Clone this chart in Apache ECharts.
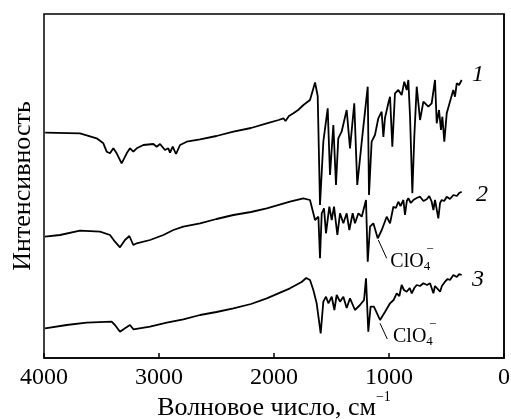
<!DOCTYPE html>
<html><head><meta charset="utf-8">
<script src="https://cdn.jsdelivr.net/npm/echarts@6/dist/echarts.min.js"></script>
<style>html,body{margin:0;padding:0;background:#fff}#c{width:511px;height:419px}</style>
</head><body><div id="c"></div>
<script>
// wavenumber (cm^-1), intensity (arbitrary, offset traces)
const curve1 = [[3990,225.3],[3687,224.7],[3542,219.7],[3484,214.7],[3455,206.3],[3426,204.7],[3397,209.7],[3368,204.7],[3325,194.7],[3281,204.7],[3252,209.7],[3223,206.3],[3194,209.7],[3136,213],[3049,214],[3020,211.3],[2991,214],[2948,208],[2919,209.7],[2904,205.3],[2881,211.3],[2852,204],[2817,213],[2759,216.3],[2643,218.7],[2500,222],[2353,226.3],[2200,230],[2063,234.7],[1960,238],[1918,239.7],[1900,237],[1870,242],[1831,244.7],[1790,248],[1744,253],[1687,258],[1643,275.5],[1620,262],[1600,153],[1571,216.3],[1533,249.7],[1513,183],[1484,233],[1461,173],[1441,219.7],[1412,226.3],[1368,248],[1339,209.7],[1302,254.7],[1276,173],[1237,216.3],[1185,271.3],[1174,163],[1151,216.3],[1122,223],[1093,239.7],[1064,246.3],[1049,221],[1035,240],[1006,254.7],[991,261.3],[971,211.3],[948,264.7],[919,268],[890,263],[867,276.3],[846,268],[832,278],[817,241.3],[797,164.7],[780,221.3],[759,271.3],[730,238],[701,256.3],[658,251.3],[629,254.7],[600,278],[585,234.7],[565,248],[548,228],[536,241.3],[519,216.3],[498,244.7],[470,256.3],[441,268],[426,261.3],[411,274.7],[391,273],[368,278]];
const curve2 = [[3991,121.3],[3861,123],[3687,127.3],[3513,126.3],[3426,123],[3383,116.3],[3339,110.7],[3296,118],[3258,122],[3223,113],[3194,114.7],[3078,118],[2962,123],[2875,128],[2788,131.3],[2643,134.7],[2500,139],[2353,143],[2200,146],[2063,149.7],[1861,156.3],[1745,159.7],[1687,158],[1658,144.7],[1643,138],[1614,141.3],[1600,99.7],[1585,144.7],[1565,149.7],[1548,124.7],[1519,151.3],[1498,138],[1478,151.3],[1449,123],[1426,144.7],[1397,134.7],[1368,144.7],[1345,128],[1316,144.7],[1296,134.7],[1266,144.7],[1237,141.3],[1200,158],[1185,96.3],[1165,131.3],[1136,134.7],[1098,119.7],[1063,128],[1020,141.3],[991,134.7],[962,151.3],[940,150],[919,156.3],[900,152],[875,158],[861,143],[845,157],[832,159.7],[810,155],[788,158],[760,160],[730,161.3],[700,157],[672,158.7],[650,162],[629,156.3],[614,148],[600,158],[585,160],[571,139.7],[556,155],[542,158],[520,157],[498,161.3],[470,159],[440,163],[410,162],[390,165],[368,166.3]];
const curve3 = [[3991,29.7],[3803,33],[3629,35.3],[3412,36.3],[3383,33],[3339,26.3],[3296,29.7],[3252,33],[3223,28.7],[3078,31.3],[2933,35.3],[2788,38.7],[2643,43],[2500,46],[2353,49.7],[2200,54],[2063,59.7],[1861,69.7],[1760,76],[1720,80],[1687,78],[1658,68],[1629,54.7],[1594,24.7],[1571,56.3],[1548,61.3],[1527,54.7],[1498,61.3],[1475,48],[1455,63],[1426,56.3],[1397,61.3],[1368,50],[1339,59.7],[1296,48],[1252,53],[1217,58],[1200,79.7],[1180,26.3],[1160,51.3],[1131,51.3],[1078,38],[1034,46.3],[991,54.7],[960,58],[933,64.7],[910,62],[890,73],[870,68],[846,66.3],[820,70],[802,64.7],[780,70],[759,73],[730,72],[701,74.7],[670,73],[643,74.7],[614,64.7],[600,72],[585,73],[556,66.3],[540,72],[513,76.3],[490,79],[470,78],[440,83],[410,81],[390,84],[368,83]];
const curveNames = ['1','2','3'];
const xTicks = [4000,3000,2000,1000,0];
// ClO4- annotations: leader line [from, to] and label anchor, in data units
const clo4Lines = [[[1093,118],[1020,99.7]],[[1078,34.7],[1015,19]]];
const clo4Labels = [[991,95.5],[968,20.5]];

const FONT = '"Liberation Serif","DejaVu Serif",serif';
const chart = echarts.init(document.getElementById('c'));
const labelOffsets = [[0,-5],[4,3],[0,5]];
const curves = [curve1, curve2, curve3];

const series = curves.map((d,i) => {
  const last = d[d.length-1];
  const mp = [{coord:last, label:{show:true, position:'right', distance:10, offset:labelOffsets[i],
      formatter:curveNames[i], fontStyle:'italic', fontSize:24, fontFamily:FONT, color:'#000'}}];
  const s = {
    type:'line', data:d, symbol:'none', animation:false,
    lineStyle:{color:'#000', width:1.8},
    markPoint:{silent:true, symbolSize:1, animation:false, itemStyle:{color:'rgba(0,0,0,0)'}, data:mp}
  };
  if (i > 0) {
    const k = i - 1;
    s.markLine = {silent:true, symbol:['none','none'], animation:false,
      lineStyle:{color:'#000', width:1, type:'solid'}, label:{show:false},
      data:[[{coord:clo4Lines[k][0]},{coord:clo4Lines[k][1]}]]};
    mp.push(
      {coord:clo4Labels[k], label:{show:true, position:'right', distance:0,
        formatter:'{a|ClO}{b|4}',
        rich:{a:{fontSize:20, fontFamily:FONT, color:'#000'},
              b:{fontSize:13, fontFamily:FONT, color:'#000', padding:[10,0,0,0]}}}},
      {coord:clo4Labels[k], label:{show:true, position:'right', distance:0, offset:[36,-12],
        formatter:'−', fontSize:13, fontFamily:FONT, color:'#000'}}
    );
  }
  return s;
});

chart.setOption({
  backgroundColor:'#fff',
  animation:false,
  grid:{left:44, right:7, top:14, bottom:61, containLabel:false, outerBoundsMode:'none',
    show:true, borderColor:'#000', borderWidth:1.5},
  xAxis:{type:'value', min:0, max:4000, interval:1000, inverse:true,
    name:'{a|Волновое число, см}{s|−1}', nameLocation:'middle', nameGap:32, nameMoveOverlap:false,
    nameTextStyle:{rich:{a:{fontSize:26, fontFamily:FONT, color:'#000'},
                         s:{fontSize:14, fontFamily:FONT, color:'#000', padding:[0,0,22,0]}}},
    axisLine:{lineStyle:{color:'#000', width:1.5}},
    axisTick:{inside:true, length:5, lineStyle:{color:'#000', width:1.5}},
    axisLabel:{fontSize:24, fontFamily:FONT, color:'#000', margin:8,
      formatter:v => xTicks.includes(v) ? String(v) : ''},
    splitLine:{show:false}},
  yAxis:{type:'value', min:0, max:344,
    name:'Интенсивность', nameLocation:'middle', nameGap:8, nameRotate:90, nameMoveOverlap:false,
    nameTextStyle:{fontSize:26, fontFamily:FONT, color:'#000'},
    axisLine:{show:true, lineStyle:{color:'#000', width:1.5}},
    axisTick:{show:false}, axisLabel:{show:false}, splitLine:{show:false}},
  series:series
});
</script></body></html>
